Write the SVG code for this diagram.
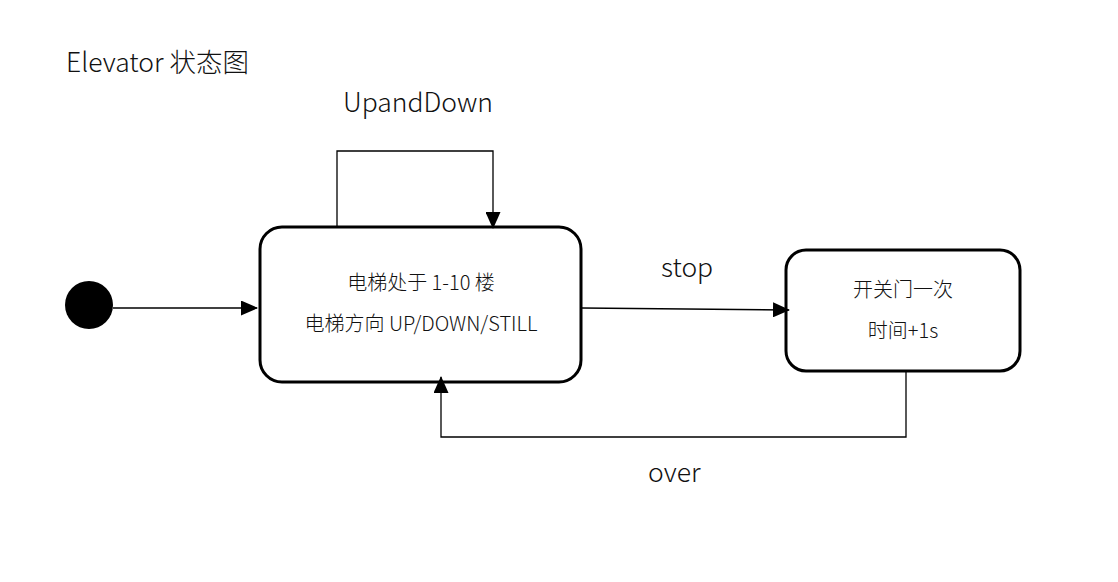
<svg xmlns="http://www.w3.org/2000/svg" width="1118" height="582" viewBox="0 0 1118 582">
<style>
.t{font-family:"Noto Sans CJK SC","Noto Sans",sans-serif;font-weight:300;fill:#111}
.big{font-size:26.5px}
.sm{font-size:20px}
.node{fill:#fff;stroke:#000;stroke-width:3}
.edge{fill:none;stroke:#000;stroke-width:1.3}
</style>
<defs>
<marker id="ah" markerWidth="17" markerHeight="15" refX="16" refY="7.5" orient="auto" markerUnits="userSpaceOnUse">
<path d="M0,0 L17,7.5 L0,15 Z" fill="#000"/>
</marker>
</defs>
<rect width="1118" height="582" fill="#fff"/>
<text class="t big" x="66" y="72">Elevator 状态图</text>
<g id="start"><circle cx="89" cy="305" r="24" fill="#000"/></g>
<g id="moving">
<rect class="node" x="260" y="227" width="321" height="155" rx="22"/>
<text class="t sm" x="421" y="290" text-anchor="middle">电梯处于 1-10 楼</text>
<text class="t sm" x="421" y="331" text-anchor="middle">电梯方向 UP/DOWN/STILL</text>
</g>
<g id="door">
<rect class="node" x="786" y="250" width="234" height="121" rx="20"/>
<text class="t sm" x="903" y="297" text-anchor="middle">开关门一次</text>
<text class="t sm" x="903" y="338" text-anchor="middle">时间+1s</text>
</g>
<g id="connectors">
<path class="edge" d="M113,308 H257" marker-end="url(#ah)"/>
<path class="edge" d="M337,226 V151 H493 V228" marker-end="url(#ah)"/>
<path class="edge" d="M582,308 L789,310" marker-end="url(#ah)"/>
<path class="edge" d="M906,372 V437 H441 V377" marker-end="url(#ah)"/>
<text class="t big" x="343" y="112">UpandDown</text>
<text class="t big" x="661" y="277">stop</text>
<text class="t big" x="648" y="482">over</text>
</g>
</svg>
